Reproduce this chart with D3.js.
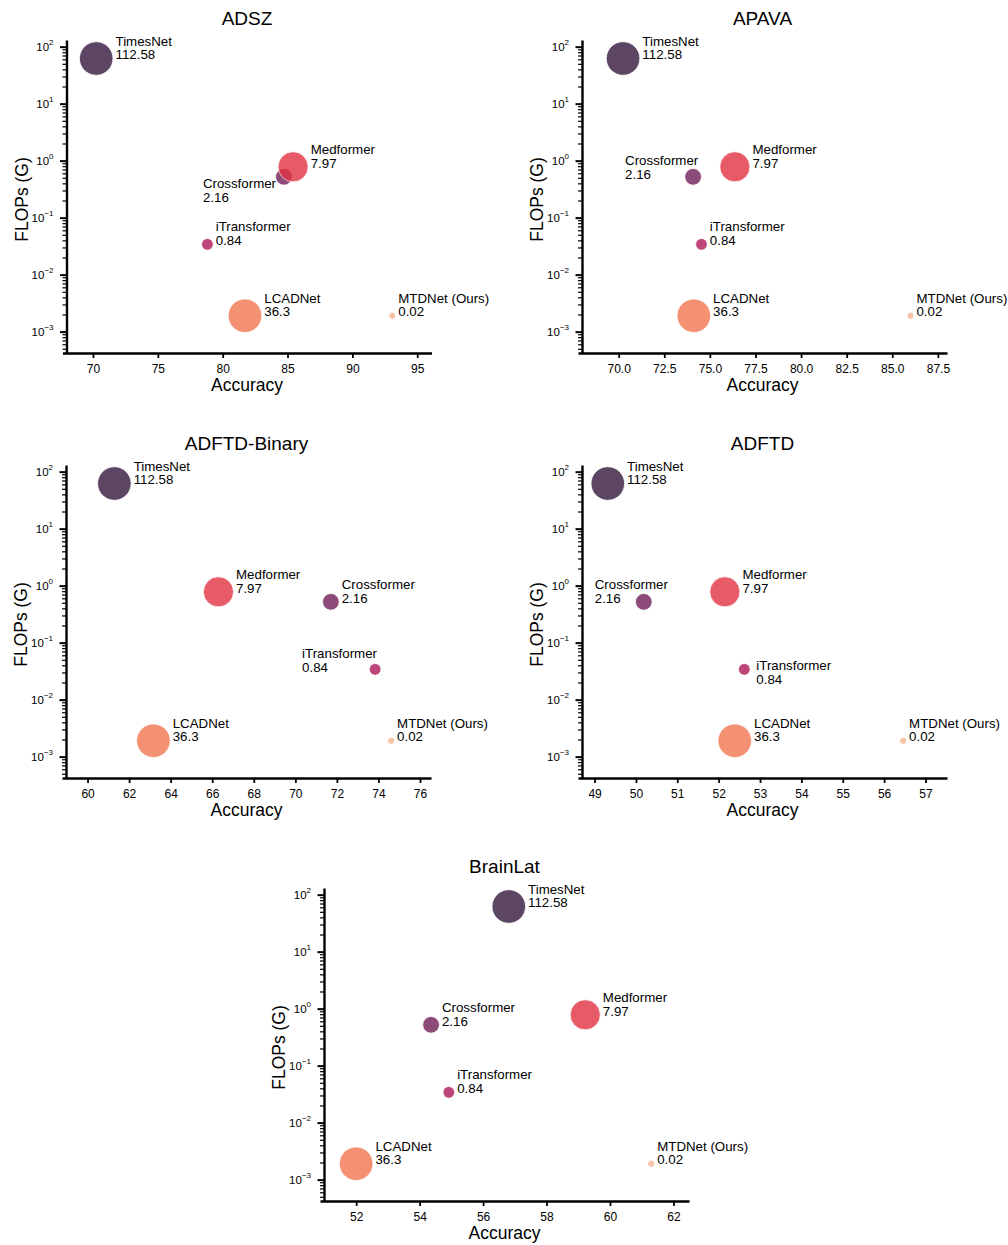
<!DOCTYPE html>
<html>
<head>
<meta charset="utf-8">
<script src="https://cdn.jsdelivr.net/npm/d3@7"></script>
<style>
  body { margin: 0; background: #fff; }
  text { font-family: "Liberation Sans", Arial, sans-serif; fill: #000; }
</style>
</head>
<body>
<svg id="chart" width="1008" height="1245"></svg>
<script>
// models, in plotting order (later ones drawn on top)
const models = ['TimesNet', 'Crossformer', 'iTransformer', 'Medformer', 'LCADNet', 'MTDNet (Ours)']
const params = [112.58, 2.16, 0.84, 7.97, 36.3, 0.02]          // shown under the name, drives bubble size
const flops = [62, 0.52, 0.034, 0.78, 0.0019, 0.0019]           // GFLOPs, y axis

const datasets = ['ADSZ', 'APAVA', 'ADFTD-Binary', 'ADFTD', 'BrainLat']
const accADSZ = [70.25, 84.72, 78.82, 85.43, 81.72, 93.08]
const accAPAVA = [70.24, 74.08, 74.54, 76.37, 74.12, 86.0]
const accADFTDBinary = [61.29, 71.71, 73.84, 66.3, 63.17, 74.61]
const accADFTD = [49.32, 50.19, 52.62, 52.15, 52.39, 56.46]
const accBrainLat = [56.81, 54.36, 54.92, 59.22, 52.0, 61.3]

// x limits and tick labels per dataset
const xLimADSZ = [67.65, 96.1], ticksADSZ = [70, 75, 80, 85, 90, 95]
const xLimAPAVA = [67.77, 88.0], ticksAPAVA = [70, 72.5, 75, 77.5, 80, 82.5, 85, 87.5]
const xLimADFTDBinary = [58.77, 76.53], ticksADFTDBinary = [60, 62, 64, 66, 68, 70, 72, 74, 76]
const xLimADFTD = [48.6, 57.52], ticksADFTD = [49, 50, 51, 52, 53, 54, 55, 56, 57]
const xLimBrainLat = [50.86, 62.49], ticksBrainLat = [52, 54, 56, 58, 60, 62]

const yLim = [Math.pow(10, -3.375), Math.pow(10, 2.117)]
const yExps = [-3, -2, -1, 0, 1, 2]

// seaborn "rocket", 6 colours
const palette = ['#35193e', '#701f57', '#ad1759', '#e13342', '#f37651', '#f6b48f']

const acc = { 'ADSZ': accADSZ, 'APAVA': accAPAVA, 'ADFTD-Binary': accADFTDBinary, 'ADFTD': accADFTD, 'BrainLat': accBrainLat }
const xLims = { 'ADSZ': xLimADSZ, 'APAVA': xLimAPAVA, 'ADFTD-Binary': xLimADFTDBinary, 'ADFTD': xLimADFTD, 'BrainLat': xLimBrainLat }
const xTicks = { 'ADSZ': ticksADSZ, 'APAVA': ticksAPAVA, 'ADFTD-Binary': ticksADFTDBinary, 'ADFTD': ticksADFTD, 'BrainLat': ticksBrainLat }

// layout
const W = 369, H = 313
const layout = {
  'ADSZ': { left: 62.5, top: 40 },
  'APAVA': { left: 578, top: 40 },
  'ADFTD-Binary': { left: 62, top: 465 },
  'ADFTD': { left: 578, top: 465 },
  'BrainLat': { left: 320, top: 888 }
}
// label placements that differ from the default (right of the bubble)
// dx: left of text block from centre, dy: first baseline from centre
const labelMoves = {
  'ADSZ': { 'Crossformer': { dx: -81, dy: 11 } },
  'APAVA': { 'Crossformer': { dx: -68, dy: -12 } },
  'ADFTD-Binary': { 'iTransformer': { dx: -73, dy: -11 } },
  'ADFTD': { 'Crossformer': { dx: -49, dy: -13 }, 'iTransformer': { dx: 12, dy: 1 } },
  'BrainLat': {}
}

const area = d3.scaleLinear().domain([0.02, 10]).range([12, 282]).clamp(true)
const radius = p => Math.sqrt(area(p))
const color = d3.scaleOrdinal().domain(models).range(palette)

const svg = d3.select('#chart')
svg.append('rect').attr('width', 1008).attr('height', 1245).attr('fill', '#fff')

const superDigits = e => (e < 0 ? '\u2212' : '') + Math.abs(e)

datasets.forEach(name => {
  const { left, top } = layout[name]
  const g = svg.append('g').attr('class', 'panel')

  const x = d3.scaleLinear().domain(xLims[name]).range([left, left + W])
  const y = d3.scaleLog().domain(yLim).range([top + H, top])
  const spineX = left + 4

  // x axis
  const fmt = name === 'APAVA' ? d3.format('.1f') : d3.format('d')
  const xAxis = g.append('g')
    .attr('transform', 'translate(0,' + (top + H) + ')')
    .call(d3.axisBottom(x).tickValues(xTicks[name]).tickSize(5).tickSizeOuter(0).tickPadding(6).tickFormat(fmt))
  xAxis.select('.domain').attr('stroke', '#000').attr('stroke-width', 2.4)
  xAxis.selectAll('.tick line').attr('stroke-width', 1.8)
  xAxis.selectAll('.tick text').attr('font-size', '12px').attr('font-family', '"Liberation Sans", Arial, sans-serif')

  // y axis: major + minor ticks
  const majors = yExps.map(e => Math.pow(10, e))
  const minors = []
  for (let e = -4; e <= 2; e++) {
    for (let k = 2; k <= 9; k++) {
      const v = k * Math.pow(10, e)
      if (v >= yLim[0] && v <= yLim[1]) minors.push(v)
    }
  }
  const yAxis = g.append('g')
    .attr('transform', 'translate(' + spineX + ',0)')
    .call(d3.axisLeft(y).tickValues(majors).tickSize(6.5).tickSizeOuter(0).tickFormat(''))
  yAxis.select('.domain').attr('stroke', '#000').attr('stroke-width', 2.4)
  yAxis.selectAll('.tick line').attr('stroke-width', 2)
  const yMinor = g.append('g')
    .attr('transform', 'translate(' + spineX + ',0)')
    .call(d3.axisLeft(y).tickValues(minors).tickSize(4).tickFormat(''))
  yMinor.select('.domain').remove()
  yMinor.selectAll('.tick line').attr('stroke-width', 1.2)

  // y tick labels as 10^e
  yExps.forEach(e => {
    const t = g.append('text')
      .attr('x', spineX - 13)
      .attr('y', y(Math.pow(10, e)) + 4.5)
      .attr('text-anchor', 'end')
      .attr('font-size', '11.5px')
    t.append('tspan').text('10')
    t.append('tspan').attr('font-size', '8px').attr('dy', -6.5).text(superDigits(e))
  })

  // titles
  g.append('text').attr('x', left + W / 2).attr('y', top - 15)
    .attr('text-anchor', 'middle').attr('font-size', '19px').text(name)
  g.append('text').attr('x', left + W / 2).attr('y', top + H + 37.5)
    .attr('text-anchor', 'middle').attr('font-size', '17.5px').text('Accuracy')
  g.append('text')
    .attr('transform', 'translate(' + (spineX - 39) + ',' + (top + H / 2 + 3) + ') rotate(-90)')
    .attr('text-anchor', 'middle').attr('font-size', '17.5px').text('FLOPs (G)')

  // bubbles
  const rows = models.map((m, i) => ({ model: m, acc: acc[name][i], flops: flops[i], params: params[i] }))
  g.selectAll('circle.bubble')
    .data(rows)
    .enter().append('circle')
    .attr('class', 'bubble')
    .attr('cx', d => x(d.acc))
    .attr('cy', d => y(d.flops))
    .attr('r', d => radius(d.params))
    .attr('fill', d => color(d.model))
    .attr('stroke', '#fff')
    .attr('stroke-width', 0.8)
    .attr('opacity', 0.8)

  // labels
  rows.forEach(d => {
    const cx = x(d.acc), cy = y(d.flops)
    const mv = labelMoves[name][d.model] || { dx: radius(d.params) + 2.5, dy: -13 }
    const t = g.append('text').attr('font-size', '13.3px')
    t.append('tspan').attr('x', cx + mv.dx).attr('y', cy + mv.dy).text(d.model)
    t.append('tspan').attr('x', cx + mv.dx).attr('dy', 13.7).text(d.params)
  })
})
</script>
</body>
</html>
